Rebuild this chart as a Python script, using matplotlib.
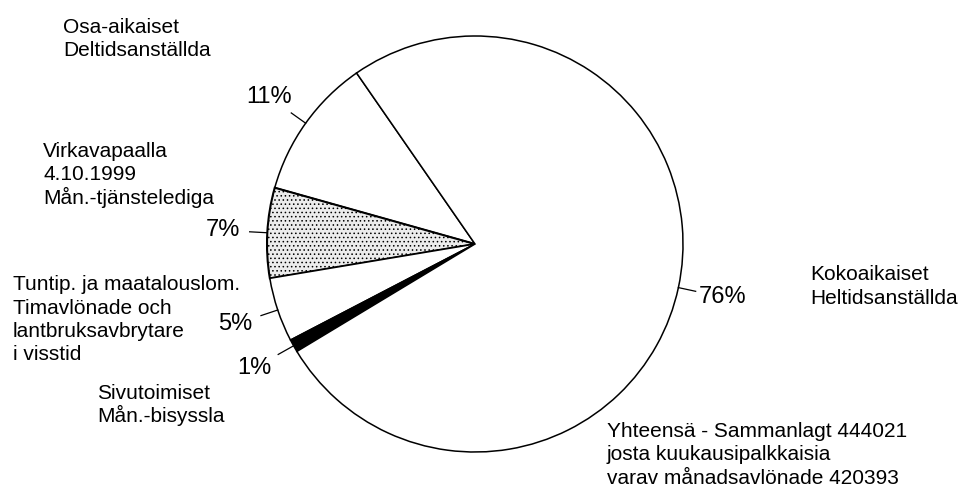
import numpy as np
import matplotlib
matplotlib.use("Agg")
import matplotlib.pyplot as plt

plt.rcParams['font.family'] = ['Liberation Sans', 'DejaVu Sans']
plt.rcParams['hatch.color'] = '#9a9a9a'
plt.rcParams['hatch.linewidth'] = 0.6

# shares in percent, counter-clockwise from the top-left boundary
shares = [11, 7, 5, 1, 76]
face_colors = ['white', '#ececec', 'white', 'black', 'white']
hatches = [None, '....', None, None, None]

category_texts = [
    "Osa-aikaiset\nDeltidsanställda",
    "Virkavapaalla\n4.10.1999\nMån.-tjänstelediga",
    "Tuntip. ja maatalouslom.\nTimavlönade och\nlantbruksavbrytare\ni visstid",
    "Sivutoimiset\nMån.-bisyssla",
    "Kokoaikaiset\nHeltidsanställda",
    "Yhteensä - Sammanlagt 444021\njosta kuukausipalkkaisia\nvarav månadsavlönade 420393",
]
# left edge / first baseline in pixels (y from top)
category_pos = [(63, 33), (43, 157), (13, 290), (97, 399), (810, 280), (607, 437)]

W, H = 960, 487
fig = plt.figure(figsize=(W / 100, H / 100), dpi=100)
ax = fig.add_axes([0, 0, 1, 1])

cx, cy, r = 475, H - 244, 208
wedges, _, pct_texts = ax.pie(
    shares, center=(cx, cy), radius=r, startangle=124.7, counterclock=True,
    colors=face_colors, autopct=lambda p: f'{p:.0f}%', pctdistance=1.215,
    wedgeprops=dict(edgecolor='black', linewidth=1.1),
    textprops=dict(fontsize=17, color='black'))
for w, h in zip(wedges, hatches):
    if h:
        w.set_hatch(h)
        w.set_linewidth(1.5)

# leader lines for the percentage labels
for w in wedges:
    mid = np.deg2rad((w.theta1 + w.theta2) / 2)
    rr = np.array([r, r * 1.085])
    ax.plot(cx + rr * np.cos(mid), cy + rr * np.sin(mid), color='black', lw=0.9)

# category labels, one text per line so each line keeps its own box
line_step = 23.5
for txt, (x, y) in zip(category_texts, category_pos):
    for i, line in enumerate(txt.split("\n")):
        ax.text(x, H - (y + i * line_step), line, fontsize=15,
                ha='left', va='baseline')

ax.set_xlim(0, W)
ax.set_ylim(0, H)
ax.set_aspect('equal')
ax.axis('off')

fig.savefig('out.png', dpi=100)
